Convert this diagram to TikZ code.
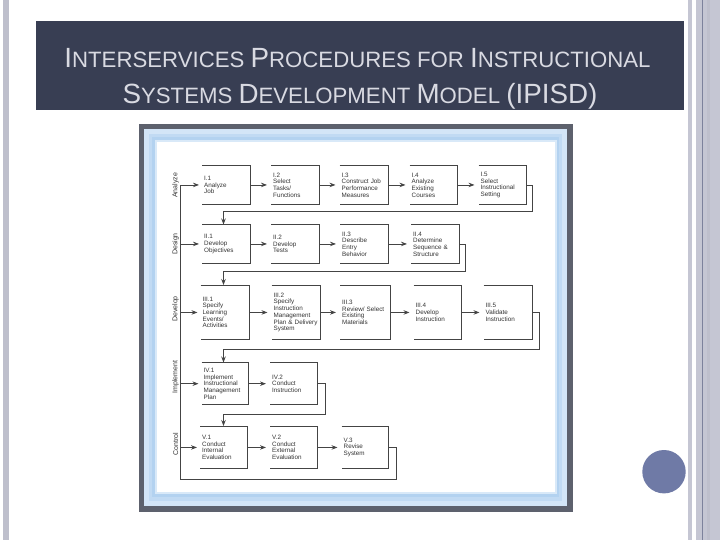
\documentclass[tikz,border=0pt]{standalone}
\usepackage{fontspec}
\setmainfont{Liberation Sans}
\usetikzlibrary{arrows.meta}
\definecolor{barc}{HTML}{383E53}
\definecolor{titlec}{HTML}{D9DAE2}
\definecolor{stripec}{HTML}{C5C6D3}
\definecolor{stripel}{HTML}{BEBFCC}
\definecolor{stripedk}{HTML}{7D829C}
\definecolor{framec}{HTML}{5D616D}
\definecolor{glowa}{HTML}{D3E5F7}
\definecolor{glowb}{HTML}{C1DAF3}
\definecolor{glowc}{HTML}{B3D2F0}
\definecolor{glowd}{HTML}{D9E9F8}
\definecolor{dotc}{HTML}{6F7AA6}
\definecolor{linec}{HTML}{444444}
\definecolor{txtc}{HTML}{333333}
\newcommand\Bc[1]{{\fontsize{27.8}{30}\selectfont #1}}
\newcommand\boxfont{\fontsize{6.3}{6.7}\selectfont}
\newcommand\bx[6]{%
  \node[box, text width=#4pt, minimum height=#5pt] (#1) at (#2,#3) {#6};
  \draw[edge] (#1.north west) -| (#1.south east) -- (#1.south west);}
\begin{document}
\begin{tikzpicture}[x=1pt,y=-1pt,
  box/.style={anchor=north west, inner xsep=2pt, inner ysep=0pt, align=left,
    font=\boxfont, text=txtc},
  edge/.style={draw=linec, line width=0.9pt},
  conn/.style={draw=linec, line width=0.8pt},
  arr/.style={conn, -{Stealth[length=6pt,width=4.5pt]}},
  lab/.style={font=\fontsize{7}{8}\selectfont, text=txtc, rotate=90, inner sep=0pt}]
\useasboundingbox (0,0) rectangle (720,540);
\fill[white] (0,0) rectangle (720,540);
% side stripes
\fill[stripel] (3,0) rectangle (9,540);
\fill[stripec] (688,0) rectangle (692,540);
\fill[stripec] (696,0) rectangle (720,540);
\fill[stripel] (707,0) rectangle (710,540);
\draw[stripedk, line width=1pt] (702.3,0) -- (702.3,540);
% title bar
\fill[barc] (36,21) rectangle (684,110);
\node[anchor=base, text=titlec, font=\fontsize{22.2}{26}\selectfont, inner sep=0pt] (t1) at (357.5,68)
  {\Bc{I}NTERSERVICES \Bc{P}ROCEDURES FOR \Bc{I}NSTRUCTIONAL};
\node[anchor=base, text=titlec, font=\fontsize{22.2}{26}\selectfont, inner sep=0pt] (t2) at (360,104)
  {\Bc{S}YSTEMS \Bc{D}EVELOPMENT \Bc{M}ODEL \Bc{(IPISD)}};
% circle
\fill[dotc] (664,471.7) circle (21.7);
% picture frame
\fill[framec] (139,124) rectangle (573,512);
\fill[glowa] (144,129) rectangle (567,506);
\fill[glowb] (149,134) rectangle (562,501);
\fill[glowc] (152,137) rectangle (559,497);
\fill[glowd] (155,140) rectangle (557,494);
\fill[white] (157,142) rectangle (555,492);
% labels
\node[lab] (lA) at (175.5,185.5) {Analyze};
\node[lab] (lD) at (175.5,244) {Design};
\node[lab] (lV) at (175.5,309) {Develop};
\node[lab] (lI) at (175.5,377) {Implement};
\node[lab] (lC) at (175.5,444) {Control};
% row 1
\bx{I1}{202}{165.5}{44}{38.5}{I.1\\Analyze\\Job}
\bx{I2}{271}{165.5}{44}{38.5}{I.2\\Select\\Tasks/\\Functions}
\bx{I3}{339.5}{165.5}{45}{38.5}{I.3\\Construct Job\\Performance\\Measures}
\bx{I4}{409.5}{165.5}{44}{38.5}{I.4\\Analyze\\Existing\\Courses}
\bx{I5}{478.5}{165.5}{44}{38.5}{I.5\\Select\\Instructional\\Setting}
% row 2
\bx{II1}{202}{224.5}{44}{38.5}{II.1\\Develop\\Objectives}
\bx{II2}{271}{224.5}{44}{38.5}{II.2\\Develop\\Tests}
\bx{II3}{340}{224.5}{44}{38.5}{II.3\\Describe\\Entry\\Behavior}
\bx{II4}{411}{224.5}{44}{38.5}{II.4\\Determine\\Sequence \&\\Structure}
% row 3
\bx{III1}{200.5}{285}{45}{54.5}{III.1\\Specify\\Learning\\Events/\\Activities}
\bx{III2}{271.5}{285}{45}{54.5}{III.2\\Specify\\Instruction\\Management\\Plan \& Delivery\\System}
\bx{III3}{340}{285}{46.5}{54.5}{III.3\\Review/ Select\\Existing\\Materials}
\bx{III4}{413.5}{285}{44}{54.5}{III.4\\Develop\\Instruction}
\bx{III5}{483.5}{285}{45}{54.5}{III.5\\Validate\\Instruction}
% row 4
\bx{IV1}{201.5}{362.5}{43}{42}{IV.1\\Implement\\Instructional\\Management\\Plan}
\bx{IV2}{270}{362.5}{43.5}{42}{IV.2\\Conduct\\Instruction}
% row 5
\bx{V1}{200}{426}{43}{42.5}{V.1\\Conduct\\Internal\\Evaluation}
\bx{V2}{270}{426}{43.5}{42.5}{V.2\\Conduct\\External\\Evaluation}
\bx{V3}{341.5}{426}{43}{42.5}{V.3\\Revise\\System}
% row arrows
\foreach \a/\b in {I1/I2,I2/I3,I3/I4,I4/I5,II1/II2,II2/II3,II3/II4,
  III1/III2,III2/III3,III3/III4,III4/III5,IV1/IV2,V1/V2,V2/V3}
  \draw[arr, shorten >=4pt] (\a.east) -- (\b.west);
% feedback connectors
\coordinate (f1a) at (532.5,211); \coordinate (f1b) at (223.5,211);
\coordinate (f2a) at (465,271.7); \coordinate (f2b) at (223.5,271.7);
\coordinate (f3a) at (539.5,349.3); \coordinate (f3b) at (223.5,349.3);
\coordinate (f4a) at (325.7,414.3); \coordinate (f4b) at (223.5,414.3);
\coordinate (f5a) at (396,479); \coordinate (f5b) at (180.7,479);
\draw[arr] (I5.east) -| (f1a) -- (f1b) -- (f1b |- II1.north);
\draw[arr] (II4.east) -| (f2a) -- (f2b) -- (f2b |- III1.north);
\draw[arr] (III5.east) -| (f3a) -- (f3b) -- (f3b |- IV1.north);
\draw[arr] (IV2.east) -| (f4a) -- (f4b) -- (f4b |- V1.north);
\draw[conn] (V3.east) -| (f5a) -- (f5b) -- (f5b |- I1.west);
% spine arrows
\foreach \n in {I1,II1,III1,IV1,V1}
  \draw[arr, shorten >=3pt] (\n.west -| f5b) -- (\n.west);
\end{tikzpicture}
\end{document}
